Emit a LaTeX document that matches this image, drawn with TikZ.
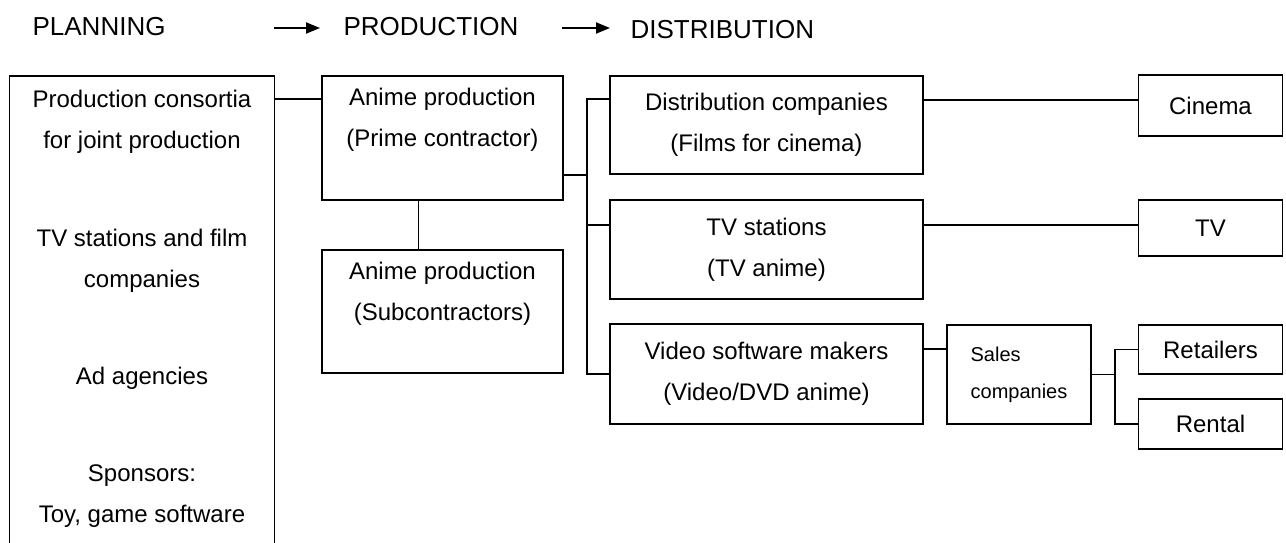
\documentclass[tikz,border=0pt]{standalone}
\usepackage{fontspec}
\setmainfont{Liberation Sans}
\usetikzlibrary{positioning, arrows.meta, calc}

\begin{document}
\begin{tikzpicture}[x=1pt, y=-1pt, line width=1.2pt,
    box/.style={draw, align=center, inner sep=0pt, font=\fontsize{24}{41}\selectfont},
    outlet/.style={box, minimum width=144pt},
    head/.style={anchor=base west, inner sep=0pt, font=\fontsize{26}{30}\selectfont},
    flow/.style={-{Triangle[length=14pt, width=11pt]}, line width=2pt}]

    \useasboundingbox (0,0) rectangle (1286,543);

    % 1. Záhlaví (fáze)
    \node[head] (planh) at (32,36) {PLANNING};
    \node[head] (prodh) at (343,36) {PRODUCTION};
    \node[head] (disth) at (630,39) {DISTRIBUTION};
    \coordinate (a1s) at (274,28);
    \coordinate (a1e) at (320,28);
    \coordinate (a2s) at (562,28);
    \coordinate (a2e) at (610,28);
    \draw[flow] (a1s) -- (a1e);
    \draw[flow] (a2s) -- (a2e);

    % 2. Plánování (levý sloupec, bez spodní hrany)
    \node[anchor=north, minimum width=264pt, inner xsep=0pt, inner ysep=14pt, align=center,
          font=\fontsize{24}{41}\selectfont] (plan) at (142,76)
        {Production consortia\\for joint production\\[57pt]TV stations and film\\companies\\[56pt]Ad agencies\\[56pt]Sponsors:\\Toy, game software};
    \draw ([yshift=-40pt]plan.south west) -- (plan.north west) -- (plan.north east) -- ([yshift=-40pt]plan.south east);

    % 3. Výroba
    \node[box, minimum width=241pt, minimum height=124pt] (anime) at (442.5,138) {Anime production\\(Prime contractor)\\~};
    \node[box, minimum width=241pt, minimum height=123pt] (sub) at (442.5,311.5) {Anime production\\(Subcontractors)\\~};

    % 4. Distribuce
    \node[box, minimum width=313pt, minimum height=98pt] (dist) at (766.5,125) {Distribution companies\\(Films for cinema)};
    \node[box, minimum width=313pt, minimum height=99pt] (tvst) at (766.5,249.5) {TV stations\\(TV anime)};
    \node[box, minimum width=313pt, minimum height=100pt] (video) at (766.5,374) {Video software makers\\(Video/DVD anime)};
    \node[box, minimum width=144pt, minimum height=99pt, align=left,
          font=\fontsize{20}{37}\selectfont] (sales) at (1019,374.5) {Sales\\companies};

    \node[outlet, minimum height=61pt] (cinema) at (1210.5,105.5) {Cinema};
    \node[outlet, minimum height=56pt] (tv) at (1210.5,228) {TV};
    \node[outlet, minimum height=49pt] (retail) at (1210.5,349.5) {Retailers};
    \node[outlet, minimum height=50pt] (rental) at (1210.5,424) {Rental};

    % 5. Spojnice
    \coordinate (bus) at (587,99);
    \coordinate (fork) at (1115,375);
    \draw ([yshift=39pt]anime.west) -- ([yshift=39pt]anime.west -| plan.east);
    \draw ([xshift=-24pt]anime.south) -- ([xshift=-24pt]anime.south |- sub.north);
    \draw ([yshift=-37pt]anime.east) -- ([yshift=-37pt]anime.east -| bus);
    \draw ([yshift=26pt]dist.west) -- (bus) |- (video.west);
    \draw ([yshift=24.5pt]tvst.west) -- ([yshift=24.5pt]tvst.west -| bus);
    \draw ([yshift=5.5pt]cinema.west) -- ([yshift=5.5pt]cinema.west -| dist.east);
    \draw ([yshift=3pt]tv.west) -- ([yshift=3pt]tv.west -| tvst.east);
    \draw ([yshift=25pt]video.east) -- ([yshift=25pt]video.east -| sales.west);
    \draw (sales.east) -- (sales.east -| fork);
    \draw (retail.west) -| (fork) |- (rental.west);

\end{tikzpicture}
\end{document}
